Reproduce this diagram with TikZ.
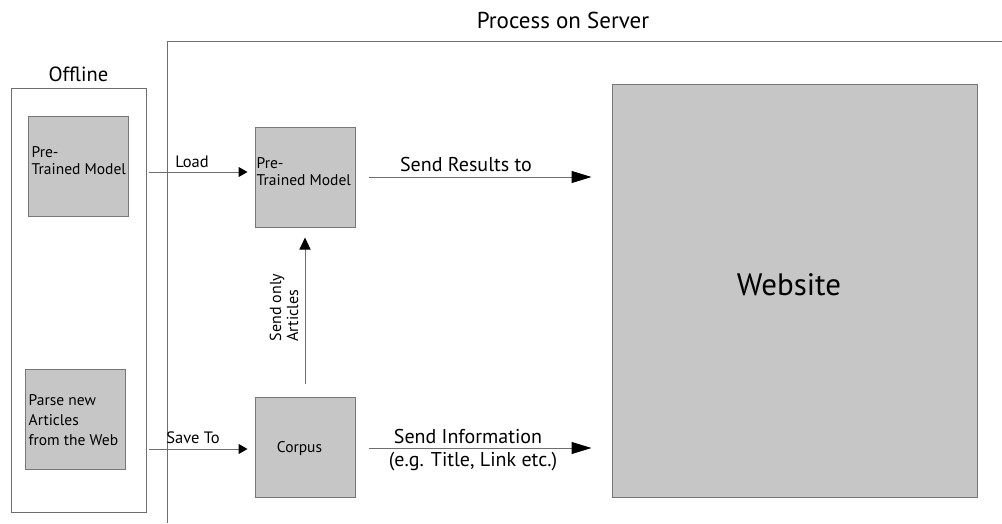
\documentclass[tikz,border=0pt]{standalone}
\usepackage{fontspec}
\setmainfont{PT Sans}
\usetikzlibrary{arrows.meta,calc}
\definecolor{boxfill}{HTML}{C6C6C6}
\definecolor{boxline}{HTML}{777777}
\definecolor{wire}{HTML}{6E6E6E}
\tikzset{
  graybox/.style={draw=boxline, fill=boxfill, line width=1pt, minimum width=100pt, minimum height=100pt, inner sep=0pt},
  boxtext/.style={inner sep=0pt, anchor=west, align=left, font=\fontsize{15.5}{17}\selectfont},
  frame/.style={draw=wire, line width=1pt},
  arr/.style={draw=wire, line width=1pt},
  smalltip/.style={-{Triangle[length=9pt,width=10pt,fill=black,color=black]}},
  bigtip/.style={-{Triangle[length=20pt,width=12pt,fill=black,color=black]}},
  midtip/.style={-{Triangle[length=12pt,width=11pt,fill=black,color=black]}},
  lbl/.style={inner sep=0pt, font=\fontsize{16.5}{18}\selectfont},
  biglbl/.style={inner sep=0pt, font=\fontsize{20}{22}\selectfont},
  title/.style={inner sep=0pt, font=\fontsize{23}{26}\selectfont}
}
\begin{document}
\begin{tikzpicture}[x=1pt,y=-1pt]
\useasboundingbox (0,0) rectangle (1002,523);
% frames
\node[title] (srvtitle) at (563,20) {Process on Server};
\coordinate (srvtop) at (167,41);
\coordinate (srvright) at (1002,41);
\coordinate (srvbot) at (167,523);
\draw[frame] (srvright) -- (srvtop) -- (srvbot);
\node[title, font=\fontsize{20.5}{24}\selectfont] (offtitle) at (78.5,74) {Offline};
\node[frame, minimum width=135pt, minimum height=424pt, inner sep=0pt] (offbox) at (78.5,300) {};
% boxes
\node[graybox] (lpt) at (78,166) {};
\node[boxtext] (lpttxt) at ($(lpt.west)+(4,-5)$) {Pre-\\Trained Model};
\node[graybox] (parse) at (75,419) {};
\node[boxtext, font=\fontsize{15.5}{20}\selectfont] (parsetxt) at ($(parse.west)+(4,1)$) {Parse new\\Articles\\from the Web};
\node[graybox] (mpt) at (305,177) {};
\node[boxtext] (mpttxt) at ($(mpt.west)+(2,-5)$) {Pre-\\Trained Model};
\node[graybox] (corpus) at (305,447) {};
\node[boxtext, anchor=center] (corpustxt) at (299.5,449) {Corpus};
\node[draw=boxline, fill=boxfill, line width=1pt, minimum width=365pt, minimum height=413pt, inner sep=0pt] (web) at (794.5,290.5) {};
\node[inner sep=0pt, font=\fontsize{31}{34}\selectfont] (webtxt) at (789,285) {Website};
% arrows
\draw[arr, smalltip] ($(lpt.east)+(20,6)$) -- ($(mpt.west)+(-7,-5)$);
\node[lbl] (load) at (192,162) {Load};
\draw[arr, bigtip] ($(mpt.east)+(13,0)$) -- ($(web.west |- mpt.east)+(-20,0)$);
\node[biglbl] (sendres) at (466,164) {Send Results to};
\draw[arr, smalltip] ($(parse.east)+(23,30)$) -- ($(corpus.west)+(-7,2)$);
\node[lbl] (saveto) at (193,438) {Save To};
\draw[arr, bigtip] ($(corpus.east)+(13,1)$) -- ($(web.west |- corpus.east)+(-20,1)$);
\node[biglbl] (sendinfo) at (468,436) {Send Information};
\node[biglbl] (eg) at (473,462) {(e.g. Title, Link etc.)};
\draw[arr, midtip] ($(corpus.north)+(0,-13)$) -- ($(mpt.south)+(0,10)$);
\node[lbl, font=\fontsize{16}{17}\selectfont, rotate=90, align=left] (sendonly) at (284,307.5) {Send only\\Articles};
\end{tikzpicture}
\end{document}
